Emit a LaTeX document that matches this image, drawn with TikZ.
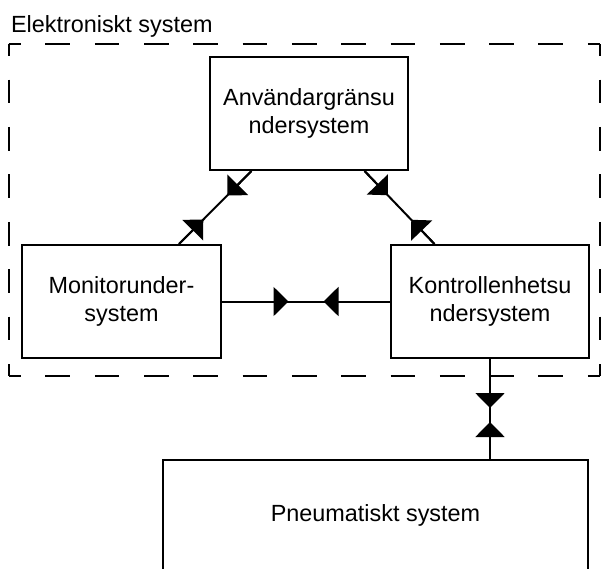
\documentclass[tikz,border=0pt]{standalone}
\usepackage{fontspec}
\setmainfont{Liberation Sans}
\usetikzlibrary{arrows.meta,calc}

\begin{document}
\begin{tikzpicture}[x=1pt,y=-1pt,line width=2pt,
  txt/.style={font=\fontsize{23.4}{27.6}\selectfont},
  box/.style={txt,draw,minimum width=198pt,minimum height=113pt,align=center},
  tip/.style={-{Triangle[length=15pt,width=29pt]}}]
\useasboundingbox (0,0) rectangle (601,568);
% electronic system frame, each side dashed on its own
\draw[dash pattern=on 24.65pt off 24.65pt,dash phase=12.32pt]
  (8.5,44) -- (600,44) (8.5,376) -- (600,376);
\draw[dash pattern=on 23.71pt off 23.71pt,dash phase=11.86pt]
  (8.5,44) -- (8.5,376) (600,44) -- (600,376);
\node[txt,anchor=base west,inner sep=0pt] (title) at (10,32) {Elektroniskt system};
% subsystems
\node[box] (anv) at (309,113.5) {Användargränsu\\ndersystem};
\node[box,minimum width=199pt] (mon) at (121.5,301.5) {Monitorunder-\\system};
\node[box] (kon) at (490,301.5) {Kontrollenhetsu\\ndersystem};
\node[box,minimum width=425pt,minimum height=110pt] (pne) at (375.5,515) {Pneumatiskt system};
% connectors, two heads meeting in the middle
\coordinate (am) at ($(anv.225)!0.5!(mon.45)$);
\draw (anv.225) -- (mon.45);
\draw[tip] (anv.225) -- ($(am)!17pt!(anv.225)$);
\draw[tip] (mon.45) -- ($(am)!17pt!(mon.45)$);
\coordinate (ak) at ($(anv.-46)!0.5!(kon.134)$);
\draw (anv.-46) -- (kon.134);
\draw[tip] (anv.-46) -- ($(ak)!17pt!(anv.-46)$);
\draw[tip] (kon.134) -- ($(ak)!17pt!(kon.134)$);
\coordinate (mk) at ($(mon.east)!0.5!(kon.west)$);
\draw (mon.east) -- (kon.west);
\draw[tip] (mon.east) -- ($(mk)!17.5pt!(mon.east)$);
\draw[tip] (kon.west) -- ($(mk)!17.5pt!(kon.west)$);
\coordinate (kp) at (kon.south |- pne.north);
\draw (kon.south) -- (kp);
\draw[tip] (kon.south) -- ($(kon.south)+(0,49)$);
\draw[tip] (kp) -- ($(kp)+(0,-37)$);
\end{tikzpicture}
\end{document}
